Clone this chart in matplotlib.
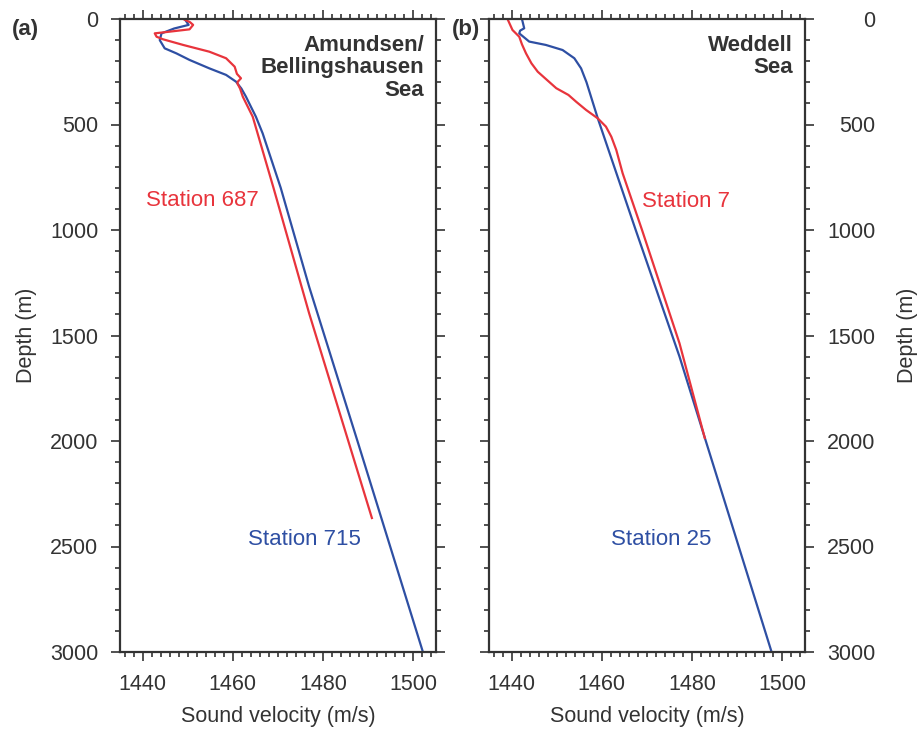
import matplotlib.pyplot as plt
from matplotlib.ticker import MultipleLocator

plt.rcParams['font.family'] = ['Liberation Sans', 'DejaVu Sans']

# panel (a) Amundsen/Bellingshausen Sea
a_blue_depth = [0, 15, 28, 45, 68, 100, 139, 163, 194, 234, 265, 297, 330, 368, 420, 463, 542,
                800, 1269, 2000, 3000]
a_blue_vel = [1449.3, 1449.8, 1450.2, 1447.0, 1444.2, 1443.8, 1444.9, 1447.5, 1450.4, 1454.8,
              1458.5, 1460.7, 1461.9, 1462.9, 1464.1, 1465.1, 1466.6, 1470.6, 1476.9, 1487.6,
              1502.1]
a_red_depth = [0, 15, 28, 49, 60, 68, 84, 96, 123, 155, 186, 226, 260, 281, 297, 305, 330, 368,
               463, 800, 1395, 2365]
a_red_vel = [1449.0, 1450.5, 1451.2, 1450.4, 1446.0, 1442.7, 1443.1, 1444.5, 1449.0, 1454.8,
             1458.5, 1460.4, 1460.9, 1461.8, 1461.1, 1461.0, 1461.6, 1462.2, 1464.4, 1469.0,
             1476.9, 1490.8]

# panel (b) Weddell Sea
b_blue_depth = [0, 44, 55, 68, 107, 123, 147, 186, 234, 300, 471, 1000, 1600, 3000]
b_blue_vel = [1442.3, 1442.8, 1441.9, 1441.7, 1443.9, 1447.6, 1451.3, 1453.9, 1455.4, 1456.6,
              1459.1, 1467.5, 1477.2, 1497.6]
b_red_depth = [0, 52, 84, 120, 163, 210, 250, 290, 328, 360, 392, 431, 471, 510, 558, 621, 731,
               1000, 1537, 1986]
b_red_vel = [1439.1, 1440.2, 1441.7, 1442.3, 1443.2, 1444.4, 1445.8, 1447.9, 1449.9, 1452.6,
             1454.3, 1456.5, 1459.1, 1460.9, 1462.1, 1463.2, 1464.6, 1468.9, 1477.2, 1482.8]

red = '#e8343c'
blue = '#2e4fa3'
dark = '#333333'
fs = 15.5

fig = plt.figure(figsize=(9.2, 7.31), dpi=100)
ax1 = fig.add_axes([120/920, 1-652/731, 316/920, 633/731])
ax2 = fig.add_axes([489/920, 1-652/731, 316/920, 633/731])

for ax in (ax1, ax2):
    ax.set_xlim(1435, 1505)
    ax.set_ylim(3000, 0)
    ax.xaxis.set_major_locator(MultipleLocator(20))
    ax.xaxis.set_minor_locator(MultipleLocator(2))
    ax.yaxis.set_major_locator(MultipleLocator(500))
    ax.yaxis.set_minor_locator(MultipleLocator(100))
    ax.tick_params(which='both', direction='out', top=True, right=True, color=dark,
                   width=1.2, labelsize=fs, labelcolor=dark)
    ax.tick_params(which='major', length=6.5, pad=9)
    ax.tick_params(which='minor', length=3.3)
    for s in ax.spines.values():
        s.set_linewidth(1.6)
        s.set_color(dark)
    ax.set_xlabel('Sound velocity (m/s)', fontsize=fs, color=dark, labelpad=8)

ax1.plot(a_blue_vel, a_blue_depth, color=blue, lw=1.6)
ax1.plot(a_red_vel, a_red_depth, color=red, lw=1.6)
ax1.set_ylabel('Depth (m)', fontsize=fs, color=dark)
ax1.yaxis.set_label_coords(-0.264, 0.5)
ax1.text(0.962, 0.975, 'Amundsen/\nBellingshausen\nSea', transform=ax1.transAxes,
         ha='right', va='top', fontsize=16, fontweight='bold', color=dark, linespacing=1.1)
ax1.text(1465.7, 862, 'Station 687', color=red, fontsize=16, ha='right', va='center')
ax1.text(1475.8, 2469, 'Station 715', color=blue, fontsize=16, ha='center', va='center')

ax2.plot(b_blue_vel, b_blue_depth, color=blue, lw=1.6)
ax2.plot(b_red_vel, b_red_depth, color=red, lw=1.6)
ax2.tick_params(which='major', axis='y', labelleft=False, labelright=True, pad=44)
for lab in ax2.get_yticklabels():
    lab.set_horizontalalignment('right')
ax2.yaxis.set_label_position('right')
ax2.set_ylabel('Depth (m)', fontsize=fs, color=dark)
ax2.yaxis.set_label_coords(1.291, 0.5)
ax2.text(0.962, 0.975, 'Weddell\nSea', transform=ax2.transAxes,
         ha='right', va='top', fontsize=16, fontweight='bold', color=dark, linespacing=1.1)
ax2.text(1469.0, 865, 'Station 7', color=red, fontsize=16, ha='left', va='center')
ax2.text(1473.2, 2469, 'Station 25', color=blue, fontsize=16, ha='center', va='center')

fig.text(12/920, 1-30/731, '(a)', fontsize=16, fontweight='bold', color=dark, va='center')
fig.text(452/920, 1-30/731, '(b)', fontsize=16, fontweight='bold', color=dark, va='center')

fig.savefig('out.png', dpi=100)
